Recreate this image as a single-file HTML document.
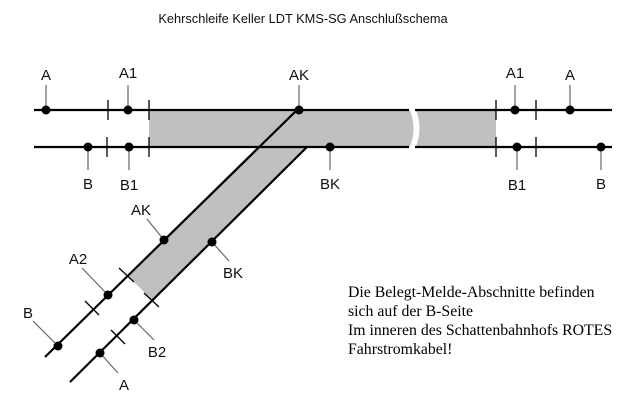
<!DOCTYPE html>
<html><head><meta charset="utf-8"><style>
html,body{margin:0;padding:0;background:#fff;width:636px;height:414px;overflow:hidden}
svg{display:block}
.l{font-family:"Liberation Sans",sans-serif;font-size:15px;fill:#111}
.note{position:absolute;left:348px;top:283px;font-family:"Liberation Serif",serif;font-size:15.8px;line-height:19px;color:#000}
</style></head><body>
<svg width="636" height="414" viewBox="0 0 636 414">
<text x="303" y="23" text-anchor="middle" font-family="Liberation Sans,sans-serif" font-size="12.8" fill="#111">Kehrschleife Keller LDT KMS-SG Anschlußschema</text>
<rect x="149" y="110" width="347" height="37" fill="#c0c0c0"/>
<polygon points="297,110 340,110 340,147 307,147 152,300 127,275 257,147" fill="#c0c0c0"/>
<path d="M409,108 Q418,128 409,149 L415,149 Q424,128 415,108 Z" fill="#fff"/>
<g stroke="#000" stroke-width="2.2" fill="none">
<line x1="34" y1="110" x2="409" y2="110"/><line x1="415" y1="110" x2="612" y2="110"/>
<line x1="34" y1="147" x2="409" y2="147"/><line x1="415" y1="147" x2="612" y2="147"/>
<line x1="297" y1="110" x2="45" y2="357"/>
<line x1="307" y1="147" x2="70" y2="382"/>
</g>
<g stroke="#000" stroke-width="1.3">
<line x1="108" y1="100" x2="108" y2="120"/><line x1="149" y1="100" x2="149" y2="120"/>
<line x1="496" y1="100" x2="496" y2="120"/><line x1="536" y1="100" x2="536" y2="120"/>
<line x1="107" y1="137" x2="107" y2="157"/><line x1="149" y1="137" x2="149" y2="157"/>
<line x1="496" y1="137" x2="496" y2="157"/><line x1="536" y1="137" x2="536" y2="157"/>
<line x1="119" y1="268" x2="134" y2="282"/><line x1="85" y1="301" x2="99" y2="315"/>
<line x1="144" y1="293" x2="159" y2="307"/><line x1="111" y1="330" x2="125" y2="344"/>
</g>
<g stroke="#666" stroke-width="1.2">
<line x1="46" y1="110" x2="46" y2="85"/><line x1="128" y1="110" x2="128" y2="85"/>
<line x1="299" y1="110" x2="299" y2="85"/><line x1="515" y1="110" x2="515" y2="85"/>
<line x1="570" y1="110" x2="570" y2="85"/>
<line x1="88" y1="147" x2="88" y2="170"/><line x1="129" y1="147" x2="129" y2="170"/>
<line x1="330" y1="147" x2="330" y2="170"/><line x1="517" y1="147" x2="517" y2="170"/>
<line x1="601" y1="147" x2="601" y2="170"/>
<line x1="164" y1="240" x2="147" y2="219"/><line x1="212" y1="242" x2="229" y2="261"/>
<line x1="108" y1="295" x2="82" y2="268"/><line x1="58" y1="346" x2="33" y2="321"/>
<line x1="134" y1="320" x2="154" y2="340"/><line x1="100" y1="353" x2="118" y2="373"/>
</g>
<g fill="#000">
<circle cx="46" cy="110" r="4.5"/><circle cx="128" cy="110" r="4.5"/><circle cx="299" cy="110" r="4.5"/>
<circle cx="515" cy="110" r="4.5"/><circle cx="570" cy="110" r="4.5"/>
<circle cx="88" cy="147" r="4.5"/><circle cx="129" cy="147" r="4.5"/><circle cx="330" cy="147" r="4.5"/>
<circle cx="517" cy="147" r="4.5"/><circle cx="601" cy="147" r="4.5"/>
<circle cx="164" cy="240" r="4.5"/><circle cx="212" cy="242" r="4.5"/><circle cx="108" cy="295" r="4.5"/>
<circle cx="58" cy="346" r="4.5"/><circle cx="134" cy="320" r="4.5"/><circle cx="100" cy="353" r="4.5"/>
</g>
<g class="l" text-anchor="middle">
<text x="46" y="80">A</text><text x="128" y="78">A1</text><text x="299" y="80">AK</text>
<text x="515" y="78">A1</text><text x="570" y="80">A</text>
<text x="88" y="189">B</text><text x="129" y="190">B1</text><text x="330" y="189">BK</text>
<text x="517" y="190">B1</text><text x="601" y="189">B</text>
<text x="141" y="215">AK</text><text x="233" y="278">BK</text><text x="78" y="264">A2</text>
<text x="28" y="318">B</text><text x="157" y="357">B2</text><text x="124" y="390">A</text>
</g>
</svg>
<div class="note">Die Belegt-Melde-Abschnitte befinden<br>sich auf der B-Seite<br>Im inneren des Schattenbahnhofs ROTES<br>Fahrstromkabel!</div>
</body></html>
